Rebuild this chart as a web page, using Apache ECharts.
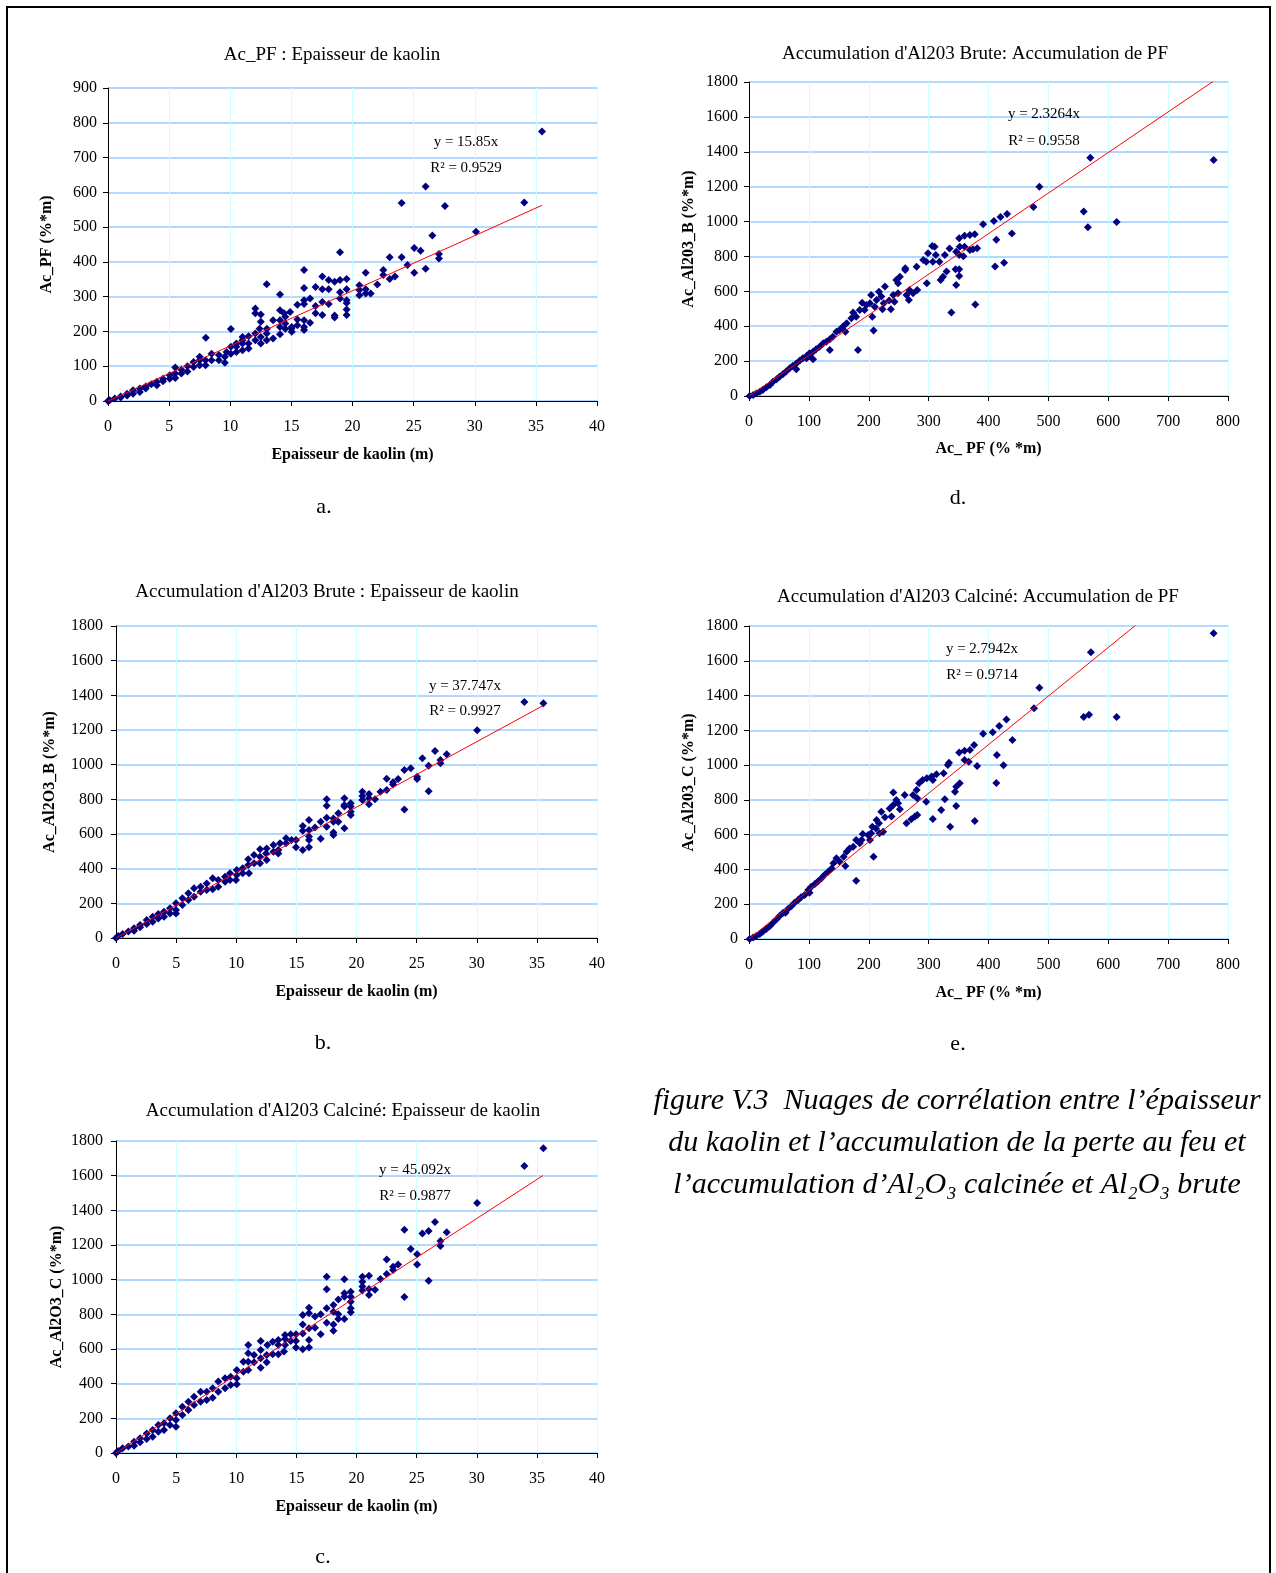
<!DOCTYPE html>
<html>
<head>
<meta charset="utf-8">
<script src="https://cdn.jsdelivr.net/npm/echarts@6/dist/echarts.min.js"></script>
<style>
html,body{margin:0;padding:0;background:#fff;}
#chart{width:1276px;height:1573px;}
</style>
</head>
<body>
<div id="chart"></div>
<script>
// ---------- DATA ----------
// a. Ac_PF vs Epaisseur de kaolin
const aPoints = [[0,0],[0.14,2],[0.55,7],[1.04,10],[1.04,13],[1.56,16],[1.56,21],[2.05,21],[2.05,31],[2.6,26],[2.6,36],[3.09,36],[3.09,42],[3.55,48],[4.0,45],[4.0,55],[4.5,57],[4.5,64],[5.05,64],[5.05,74],[5.5,66],[5.5,79],[5.5,96],[6.0,79],[6.0,90],[6.5,85],[6.5,100],[7.0,98],[7.0,112],[7.5,103],[7.5,117],[7.5,127],[7.98,103],[7.98,117],[8,182],[8.47,117],[8.47,136],[9.07,117],[9.07,132],[9.56,110],[9.56,127],[9.7,141],[10.05,136],[10.05,156],[10.05,207],[10.5,141],[10.5,156],[10.5,165],[11,146],[11,165],[11,175],[11,184],[11.5,151],[11.5,165],[11.5,186],[12.05,175],[12.05,194],[12.05,252],[12.05,266],[12.5,165],[12.5,184],[12.5,228],[12.4,208],[12.5,249],[12.98,175],[12.98,194],[13,208],[12.98,336],[13.5,180],[13.5,232],[14.07,192],[14.07,213],[14.07,232],[14.07,261],[14.07,306],[14.4,252],[14.5,208],[14.5,223],[14.5,242],[15.03,199],[15.03,213],[15,208],[14.9,256],[15.49,218],[15.49,234],[15.49,277],[16.04,204],[16.04,213],[16.04,232],[16.04,279],[16.04,290],[16.04,325],[16.04,377],[16.53,225],[16.53,295],[16.98,252],[16.98,273],[16.98,328],[17.53,247],[17.53,285],[17.53,321],[17.53,358],[18.05,279],[18.05,321],[18.05,348],[18.54,240],[18.54,246],[18.54,343],[18.98,295],[18.98,313],[18.98,348],[18.98,428],[19.52,247],[19.52,263],[19.52,282],[19.52,290],[19.52,321],[19.52,351],[20.56,304],[20.56,319],[20.56,333],[21.08,309],[21.08,321],[21.08,369],[21.49,309],[22.03,335],[22.52,362],[22.52,377],[23.04,351],[23.04,413],[23.47,358],[24.02,413],[24.02,569],[24.5,391],[25.05,369],[25.05,440],[25.57,432],[25.98,380],[25.98,617],[26.53,476],[27.07,410],[27.07,423],[27.56,561],[30.1,487],[34.05,571],[35.5,775]];

// b. Ac_Al2O3_B vs Epaisseur de kaolin
const bPoints = [[0,0],[0.19,12],[0.55,23],[1.03,37],[1.5,42],[1.5,56],[2,62],[2,75],[2.55,81],[2.55,104],[3.05,94],[3.05,123],[3.52,113],[3.52,138],[3.99,123],[3.99,152],[4.49,142],[4.49,171],[4.99,142],[4.99,162],[4.99,200],[5.52,190],[5.52,229],[6.02,219],[6.02,258],[6.49,238],[6.49,287],[7.04,267],[7.04,296],[7.54,277],[7.54,315],[8.04,281],[8.04,344],[8.51,296],[8.51,335],[9.07,325],[9.07,354],[9.48,335],[9.48,373],[9.98,335],[10.04,363],[10.04,392],[10.54,373],[10.54,402],[11,421],[11,454],[11.06,373],[11.48,431],[11.48,479],[11.98,431],[11.98,469],[11.98,512],[12.48,488],[12.53,450],[12.53,517],[13.09,498],[13.09,537],[13.5,488],[13.5,508],[13.64,546],[14.14,546],[14.14,575],
[14.6,565],[14.97,523],[14.97,565],[15.53,508],[15.53,619],[15.53,646],[16.05,523],[16.05,565],[16.05,585],[16.05,623],[16.05,681],[16.55,638],[17.02,573],[17.02,671],[17.52,642],[17.52,694],[17.52,763],[17.52,800],[18.08,594],[18.08,608],[18.08,671],[18.08,690],[18.49,671],[18.49,719],[18.99,633],[18.99,758],[18.99,767],[18.99,806],[19.52,710],[19.52,729],[19.52,758],[19.52,777],[20.49,796],[20.49,819],[20.49,844],[21.04,771],[21.04,806],[21.04,831],[21.54,800],[21.99,844],[22.51,854],[22.51,919],[23.04,886],[23.04,898],[23.46,917],[23.98,742],[23.98,969],[24.51,979],[25.04,917],[25.04,931],[25.48,1037],[26,846],[26,994],[26.53,1079],[26.98,1008],[26.98,1027],[27.5,1060],[30.03,1198],[33.96,1361],[35.54,1354]];

// c. Ac_Al2O3_C vs Epaisseur de kaolin
const cPoints = [[0,0],[0.19,12],[0.55,27],[1.03,37],[1.5,42],[1.5,65],[2,62],[2,85],[2.55,81],[2.55,113],[3.05,94],[3.05,133],[3.52,123],[3.52,162],[3.99,133],[3.99,171],[4.49,162],[4.49,200],[4.99,152],[4.99,190],[4.99,229],[5.52,219],[5.52,267],[6.02,248],[6.02,296],[6.49,277],[6.49,325],[7.04,296],[7.04,354],[7.54,306],[7.54,354],[8.04,319],[8.04,373],[8.51,354],[8.51,412],[9.07,373],[9.07,431],[9.54,392],[9.54,440],[10.04,396],[10.04,431],[10.04,479],[10.59,469],[10.59,527],[11,479],[11,527],[11,575],[11,623],[11.48,523],[11.48,565],[12.03,492],[12.03,546],[12.03,594],[12.03,646],[12.53,523],[12.53,565],[12.59,623],[13.03,569],[13.03,642],[13.5,569],[13.5,623],[13.5,652],[13.97,585],[14.06,623],[14.06,658],[14.06,681],[14.53,646],[14.53,685],
[14.97,608],[14.97,646],[14.97,685],[15.53,598],[15.53,690],[15.53,742],[15.53,796],[16.05,608],[16.05,652],[16.05,719],[16.05,806],[16.05,838],[16.55,723],[16.55,787],[17.02,685],[17.02,800],[17.52,752],[17.52,835],[17.52,944],[17.52,1017],[18.08,706],[18.08,742],[18.08,815],[18.08,854],[18.49,773],[18.49,800],[18.49,886],[18.99,773],[18.99,902],[18.99,921],[18.99,1002],[19.52,812],[19.52,835],[19.52,873],[19.52,902],[19.52,931],[20.49,937],[20.49,960],[20.49,988],[20.49,1017],[21.04,912],[21.04,946],[21.04,1023],[21.54,942],[21.99,1004],[22.51,1033],[22.51,1117],[23.04,1056],[23.04,1075],[23.46,1088],[23.98,900],[23.98,1288],[24.51,1177],[25.04,1088],[25.04,1146],[25.48,1267],[26,994],[26,1281],[26.53,1333],[26.98,1194],[26.98,1223],[27.5,1273],[30.03,1442],[33.96,1656],[35.54,1758]];

// d. Ac_Al2O3_B vs Ac_PF
const dPoints = [[1,0],[7,6],[12,15],[18,25],[23,34],[29,50],[35,63],[40,82],[46,96],[51,111],[57,126],[62,140],[68,159],[73,172],[79,187],[79,153],[85,203],[90,216],[96,216],[96,229],[101,229],[101,245],[107,254],[107,210],[112,268],[118,283],[124,302],[129,311],[135,325],[135,264],[140,340],[146,369],[151,378],[157,398],[161,369],[163,417],[171,445],[174,478],[179,455],[182,264],[185,493],[189,535],[193,493],[196,522],[202,531],[204,579],[206,455],[208,375],[210,512],[213,550],[217,598],[221,570],[223,497],[225,531],[227,627],[234,547],[237,497],[241,579],[243,541],[246,665],[249,589],[249,646],[252,684],[261,722],[261,732],[263,579],[267,550],[268,608],[274,589],[280,741],[281,608],[291,780],[296,770],[297,646],[299,818],[306,860],[307,770],[310,856],[312,808],[318,770],[320,665],[324,684],[327,808],[330,713],[335,846],[338,478],[345,726],[346,827],[346,636],[351,904],[351,808],[351,726],[351,688],[352,856],[358,801],[360,919],[360,856],[369,923],[369,837],[374,841],[377,927],[378,525],[381,847],[391,984],[409,1003],[411,743],[413,896],[420,1026],[426,764],[431,1043],[439,931],[475,1084],[485,1200],[559,1057],[566,967],[570,1366],[614,998],[776,1353]];

// e. Ac_Al2O3_C vs Ac_PF
const ePoints = [[1,0],[7,8],[12,17],[18,29],[23,42],[29,58],[35,75],[40,94],[46,113],[51,132],[57,151],[61,151],[65,173],[71,190],[76,209],[82,224],[87,240],[93,253],[99,282],[101,266],[104,301],[110,316],[115,330],[121,349],[126,368],[132,387],[138,406],[141,435],[146,464],[151,445],[158,473],[161,420],[163,502],[168,521],[174,531],[179,569],[179,335],[185,550],[188,569],[190,604],[199,598],[202,569],[204,608],[206,646],[208,473],[212,636],[213,684],[217,665],[218,608],[221,732],[224,617],[227,700],[235,750],[238,704],[241,771],[241,842],[246,799],[249,780],[252,746],[260,828],[263,665],[271,688],[274,828],[277,704],[280,857],[281,713],[281,809],[284,895],[290,915],[296,790],[297,924],[305,934],[307,690],[307,915],[313,947],[321,742],[325,953],[327,803],[332,1001],[334,1014],[336,646],[344,847],[346,765],[346,876],[351,1072],[352,895],[360,1029],[360,1083],[367,1020],[369,1087],[376,1116],[377,679],[381,995],[391,1181],[407,1189],[413,897],[414,1058],[418,1225],[425,999],[430,1263],[440,1144],[476,1327],[485,1445],[559,1277],[568,1290],[571,1649],[614,1277],[776,1758]];

// Trend lines (y = slope * x) and labels
const slopes = [15.85, 37.747, 45.092, 2.3264, 2.7942];
const r2 = ['0.9529', '0.9927', '0.9877', '0.9558', '0.9714'];
const trendMaxX = [35.5, 35.5, 35.5, 776, 776];
const titles = [
  'Ac_PF : Epaisseur de kaolin',
  'Accumulation d\'Al203 Brute : Epaisseur de kaolin',
  'Accumulation d\'Al203 Calciné: Epaisseur de kaolin',
  'Accumulation d\'Al203 Brute: Accumulation de PF',
  'Accumulation d\'Al203 Calciné: Accumulation de PF'
];
const xNames = ['Epaisseur de kaolin (m)', 'Epaisseur de kaolin (m)', 'Epaisseur de kaolin (m)', 'Ac_ PF (% *m)', 'Ac_ PF (% *m)'];
const yNames = ['Ac_PF (%*m)', 'Ac_Al2O3_B (%*m)', 'Ac_Al2O3_C (%*m)', 'Ac_Al203_B (%*m)', 'Ac_Al203_C (%*m)'];
const panelLetters = ['a.', 'b.', 'c.', 'd.', 'e.'];
const xMax = [40, 40, 40, 800, 800];
const xStep = [5, 5, 5, 100, 100];
const yMax = [900, 1800, 1800, 1800, 1800];
const yStep = [100, 200, 200, 200, 200];
const captionLines = [
  'figure V.3  Nuages de corrélation entre l’épaisseur',
  'du kaolin et l’accumulation de la perte au feu et',
  'l’accumulation d’Al₂O₃ calcinée et Al₂O₃ brute'
];

// ---------- LAYOUT ----------
const FONT = '"Liberation Serif","Times New Roman",serif';
const allPoints = [aPoints, bPoints, cPoints, dPoints, ePoints];
const grids = [
  {left:108, top:88,  width:489, height:313},
  {left:116, top:626, width:481, height:312},
  {left:116, top:1141,width:481, height:312},
  {left:749, top:82,  width:479, height:314},
  {left:749, top:626, width:479, height:313}
];
const yLabelMargin = [11, 13, 13, 11, 11];
const titlePos = [[332,55],[327,592],[343,1111],[975,54],[978,597]];
const eqPos = [[466,142,168],[465,686,711],[415,1170,1196],[1044,114,141],[982,649,675]];
const yNamePos = [47, 50, 57, 689, 689];
const xNameOffset = [54, 54, 54, 53, 54];
const letterPos = [[324,507],[323,1043],[323,1557],[958,498],[958,1044]];

const xAxes = [], yAxes = [], series = [], graphics = [];
const plain = v => String(v);
grids.forEach((g, i) => {
  xAxes.push({
    type:'value', gridIndex:i, min:0, max:xMax[i], interval:xStep[i],
    axisLine:{show:true, onZero:false, lineStyle:{color:'#000', width:1}},
    axisTick:{show:true, inside:false, length:5, lineStyle:{color:'#000'}},
    axisLabel:{color:'#000', fontFamily:FONT, fontSize:16, margin:18, formatter:plain},
    splitLine:{show:true, lineStyle:{color:'#ccffff', width:1}}
  });
  yAxes.push({
    type:'value', gridIndex:i, min:0, max:yMax[i], interval:yStep[i],
    axisLine:{show:true, onZero:false, lineStyle:{color:'#000', width:1}},
    axisTick:{show:true, inside:false, length:5, lineStyle:{color:'#000'}},
    axisLabel:{color:'#000', fontFamily:FONT, fontSize:16, margin:yLabelMargin[i], formatter:plain},
    splitLine:{show:true, lineStyle:{color:'#99ccff', width:1.6}}
  });
  series.push({
    type:'scatter', xAxisIndex:i, yAxisIndex:i, data:allPoints[i],
    symbol:'diamond', symbolSize:8, itemStyle:{color:'#000080', opacity:1}, silent:true, z:3
  });
  series.push({
    type:'line', xAxisIndex:i, yAxisIndex:i, clip:true,
    data:[[0,0],[trendMaxX[i], slopes[i]*trendMaxX[i]]],
    symbol:'none', lineStyle:{color:'#ff0000', width:1}, silent:true, z:4
  });
  const cx = g.left + g.width/2, cy = g.top + g.height/2;
  graphics.push({type:'text', x:titlePos[i][0], y:titlePos[i][1], z:10,
    style:{text:titles[i], font:'19px '+FONT, fill:'#000', align:'center', verticalAlign:'middle', textAlign:'center', textVerticalAlign:'middle'}});
  graphics.push({type:'text', x:cx, y:g.top+g.height+xNameOffset[i], z:10,
    style:{text:xNames[i], font:'bold 16px '+FONT, fill:'#000', align:'center', verticalAlign:'middle', textAlign:'center', textVerticalAlign:'middle'}});
  graphics.push({type:'text', x:yNamePos[i], y:cy, rotation:Math.PI/2, z:10,
    style:{text:yNames[i], font:'bold 16px '+FONT, fill:'#000', align:'center', verticalAlign:'middle', textAlign:'center', textVerticalAlign:'middle'}});
  graphics.push({type:'text', x:eqPos[i][0], y:eqPos[i][1], z:10,
    style:{text:'y = ' + slopes[i] + 'x', font:'15px '+FONT, fill:'#000', align:'center', verticalAlign:'middle', textAlign:'center', textVerticalAlign:'middle'}});
  graphics.push({type:'text', x:eqPos[i][0], y:eqPos[i][2], z:10,
    style:{text:'R² = ' + r2[i], font:'15px '+FONT, fill:'#000', align:'center', verticalAlign:'middle', textAlign:'center', textVerticalAlign:'middle'}});
  graphics.push({type:'text', x:letterPos[i][0], y:letterPos[i][1], z:10,
    style:{text:panelLetters[i], font:'22px '+FONT, fill:'#000', align:'center', verticalAlign:'middle', textAlign:'center', textVerticalAlign:'middle'}});
});
captionLines.forEach((t, k) => {
  graphics.push({type:'text', x:957, y:1101 + k*42, z:10,
    style:{text:t, font:'italic 30px '+FONT, fill:'#000', align:'center', verticalAlign:'middle', textAlign:'center', textVerticalAlign:'middle'}});
});
graphics.push({type:'rect', shape:{x:7, y:7, width:1263, height:1620}, z:1,
  style:{fill:'none', stroke:'#000', lineWidth:2}});

const chart = echarts.init(document.getElementById('chart'), null, {renderer:'canvas'});
chart.setOption({
  animation:false,
  backgroundColor:'#fff',
  grid:grids,
  xAxis:xAxes,
  yAxis:yAxes,
  series:series,
  graphic:graphics
});
</script>
</body>
</html>
